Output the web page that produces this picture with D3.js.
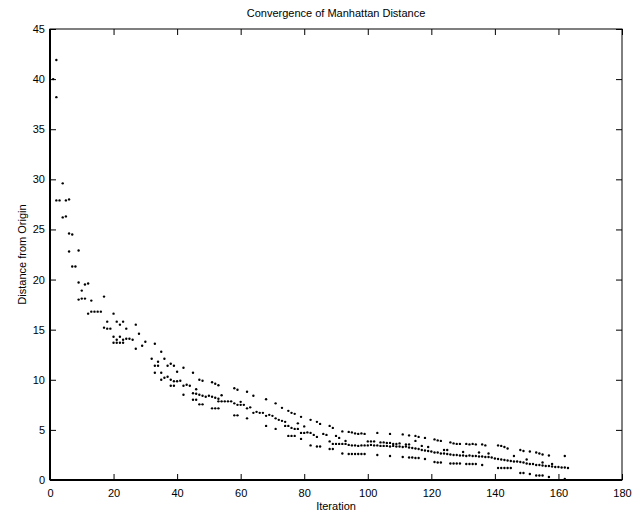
<!DOCTYPE html>
<html>
<head>
<meta charset="utf-8">
<script src="https://cdn.jsdelivr.net/npm/d3@7"></script>
<style>
  body { margin: 0; background: #fff; }
  svg { display: block; font-family: "Liberation Sans", Arial, Helvetica, sans-serif; }
  .tick text { font-size: 11px; fill: #000; }
</style>
</head>
<body>
<div id="vis"></div>
<script>
// iterations 1..33, the steep first drop
var earlyPoints = [
  [1,40.0],[2,41.9],[2,38.2],
  [4,29.6],[2,27.9],[3,27.9],[5,27.9],[6,28.0],
  [4,26.2],[5,26.3],[6,24.6],[7,24.5],[6,22.8],[9,22.9],
  [7,21.3],[8,21.3],[9,19.7],[10,18.9],[11,19.5],[12,19.6],
  [9,18.0],[10,18.1],[11,18.1],[13,17.9],[17,18.3],
  [12,16.6],[13,16.8],[14,16.8],[15,16.8],[16,16.8],[20,16.6],
  [18,15.8],[21,15.8],[23,15.8],[22,15.5],[24,15.1],[27,15.5],
  [17,15.2],[18,15.1],[19,15.1],
  [20,14.3],[22,14.3],
  [21,14.0],[23,14.0],[24,14.1],[25,14.1],[26,14.0],
  [20,13.7],[21,13.7],[22,13.7],[23,13.7],
  [28,14.6],[30,13.8],[29,13.4],[27,13.1],[33,13.6]
];

// iterations 32..75
var midPoints = [
  [32,12.1],[35,12.8],[36,12.1],[34,11.8],[33,11.4],[34,11.4],
  [37,11.4],[38,11.6],[39,11.4],[42,11.2],
  [33,10.7],[35,10.7],[40,10.8],[45,10.7],
  [36,10.2],[37,10.3],[35,10.0],[38,10.0],[39,9.85],[40,9.85],[41,9.9],
  [47,10.0],[48,9.9],[51,9.75],[52,9.6],[53,9.45],
  [38,9.4],[39,9.4],[42,9.4],[43,9.5],[44,9.4],
  [58,9.15],[59,9.0],[46,9.05],[62,8.8],[42,8.5],
  [45,8.65],[46,8.6],[47,8.5],[48,8.4],[49,8.3],[50,8.4],[51,8.3],[52,8.2],[53,8.1],
  [54,8.45],[64,8.4],
  [53,7.85],[54,7.85],[55,7.85],[56,7.85],[57,7.85],
  [45,8.0],[46,8.0],
  [58,7.65],[59,7.5],[60,7.5],[61,7.5],[60,7.8],
  [68,8.05],[71,7.65],[47,7.55],[48,7.55],
  [62,7.15],[63,7.25],[64,6.7],[65,6.8],[66,6.7],[67,6.7],
  [51,7.15],[52,7.15],[53,7.15],
  [68,6.4],[69,6.5],[70,6.4],[73,7.2],
  [58,6.45],[59,6.45],[62,6.15],
  [71,6.15],[72,6.0],[73,5.9],[74,5.8],
  [68,5.4],[71,5.1]
];

// iterations 74..116
var latePoints = [
  [75,6.9],[76,6.7],[77,6.6],[79,6.3],[82,6.0],[84,5.8],[85,5.6],[88,5.4],[89,5.2],[92,4.85],
  [94,4.8],[95,4.75],[96,4.65],[97,4.6],[98,4.65],[99,4.6],
  [103,4.7],[107,4.6],[111,4.55],[113,4.45],[115,4.4],[116,4.3],
  [74,5.4],[75,5.4],[76,5.2],[77,5.1],[78,5.1],[78,5.65],[80,5.35],
  [79,4.7],[80,4.7],[81,4.75],[82,4.7],[83,4.5],[84,4.3],[86,4.6],[87,4.5],
  [75,4.4],[76,4.4],[77,4.4],[79,4.1],[88,3.85],[90,4.4],[91,4.2],[93,3.9],
  [89,3.6],[90,3.6],[91,3.6],[92,3.6],[93,3.6],
  [94,3.5],[95,3.45],[96,3.45],[97,3.4],[98,3.45],[99,3.45],[100,3.45],[101,3.5],
  [102,3.45],[103,3.45],[104,3.4],[105,3.4],[106,3.4],[107,3.35],[108,3.4],[109,3.35],
  [110,3.35],[111,3.3],[112,3.35],[113,3.25],[114,3.2],[115,3.15],[116,3.1],
  [100,3.85],[101,3.85],[102,3.85],[104,3.75],[105,3.75],[106,3.7],[107,3.7],
  [108,3.6],[109,3.6],[110,3.65],[112,3.55],[113,3.55],[115,3.9],
  [82,3.45],[84,3.35],[85,3.35],[88,3.1],[89,3.1],
  [92,2.65],[94,2.6],[95,2.6],[96,2.6],[97,2.6],[98,2.6],[99,2.6],
  [103,2.5],[107,2.4],[111,2.3],[113,2.25],[114,2.25],[115,2.2],[116,2.2]
];

// iterations 117..163
var tailPoints = [
  [118,4.2],[121,4.05],[122,3.95],[123,3.9],[126,3.75],[127,3.65],[128,3.6],[129,3.6],
  [131,3.6],[132,3.55],[133,3.6],[134,3.55],[136,3.55],[137,3.45],
  [141,3.45],[142,3.4],[143,3.3],[144,3.15],[148,3.0],[149,2.9],[151,2.85],
  [153,2.75],[154,2.65],[155,2.55],[157,2.45],[162,2.4],
  [117,3.0],[118,2.95],[119,2.9],[120,2.85],[121,2.75],[122,2.75],[123,2.65],[124,2.65],
  [125,2.6],[126,2.55],[127,2.5],[128,2.5],[129,2.45],[130,2.45],[131,2.4],[132,2.45],
  [133,2.4],[134,2.4],[135,2.35],[136,2.35],[137,2.3],[138,2.3],[139,2.25],[140,2.15],
  [141,2.1],[142,2.05],[143,2.0],[144,1.95],[145,1.9],[146,1.85],[147,1.85],[148,1.8],
  [149,1.75],[150,1.65],[151,1.6],[152,1.6],[153,1.5],[154,1.5],[155,1.45],[156,1.4],
  [157,1.4],[158,1.35],[159,1.3],[160,1.3],[161,1.25],[162,1.25],[163,1.2],
  [117,3.4],[119,3.3],[124,3.0],[125,3.0],[130,2.8],[135,2.75],[138,2.65],
  [146,2.4],[150,2.05],[155,1.75],[158,1.6],
  [118,2.1],[121,1.8],[122,1.75],[123,1.75],[126,1.65],[127,1.65],[128,1.65],[129,1.65],
  [131,1.6],[132,1.6],[133,1.6],[134,1.6],[136,1.5],
  [141,1.2],[142,1.2],[143,1.2],[144,1.2],[145,1.2],
  [148,0.7],[149,0.7],[151,0.6],[153,0.45],[154,0.45],[155,0.45],[157,0.3],[162,0.1]
];

var xTicks = [0,20,40,60,80,100,120,140,160,180];
var yTicks = [0,5,10,15,20,25,30,35,40,45];

var allPoints = earlyPoints.concat(midPoints, latePoints, tailPoints);

var W = 644, H = 512;
var margin = {top:29, right:22, bottom:32, left:50},
    width = W - margin.left - margin.right,
    height = H - margin.top - margin.bottom;

var svg = d3.select("#vis")
    .append("svg")
    .attr("width", W)
    .attr("height", H);

svg.append("rect").attr("width", W).attr("height", H).attr("fill", "#fff");

var x = d3.scaleLinear().domain([0, 180]).range([0, width]);
var y = d3.scaleLinear().domain([0, 45]).range([height, 0]);

var g = svg.append("g")
    .attr("transform", "translate(" + margin.left + "," + margin.top + ")");

// axes, ticks pointing inward like matlab
g.append("g")
    .attr("transform", "translate(0," + height + ")")
    .call(d3.axisBottom(x).tickValues(xTicks).tickSize(-6).tickPadding(9));
g.append("g")
    .call(d3.axisTop(x).tickValues(xTicks).tickSize(-6).tickFormat(""));
g.append("g")
    .call(d3.axisLeft(y).tickValues(yTicks).tickSize(-6).tickPadding(5));
g.append("g")
    .attr("transform", "translate(" + width + ",0)")
    .call(d3.axisRight(y).tickValues(yTicks).tickSize(-6).tickFormat(""));

g.selectAll(".domain").remove();
g.selectAll(".tick line").attr("stroke", "#000");

// box
g.append("rect")
    .attr("width", width).attr("height", height)
    .attr("fill", "none").attr("stroke", "#000").attr("stroke-width", 1);
g.append("line").attr("x1", 0).attr("x2", width).attr("y1", height).attr("y2", height)
    .attr("stroke", "#000").attr("stroke-width", 2);
g.append("line").attr("x1", 0).attr("x2", 0).attr("y1", 0).attr("y2", height)
    .attr("stroke", "#000").attr("stroke-width", 2);

// points
g.append("g").selectAll("circle")
    .data(allPoints)
    .enter()
    .append("circle")
    .attr("cx", function(d) { return x(d[0]); })
    .attr("cy", function(d) { return y(d[1]); })
    .attr("r", 1.2)
    .attr("fill", "#000");

// labels
svg.append("text")
    .attr("x", margin.left + width/2).attr("y", 17)
    .attr("text-anchor", "middle").attr("font-size", 11)
    .text("Convergence of Manhattan Distance");

svg.append("text")
    .attr("x", margin.left + width/2).attr("y", 510)
    .attr("text-anchor", "middle").attr("font-size", 11)
    .text("Iteration");

svg.append("text")
    .attr("transform", "translate(26," + (margin.top + height/2) + ") rotate(-90)")
    .attr("text-anchor", "middle").attr("font-size", 11)
    .text("Distance from Origin");
</script>
</body>
</html>
